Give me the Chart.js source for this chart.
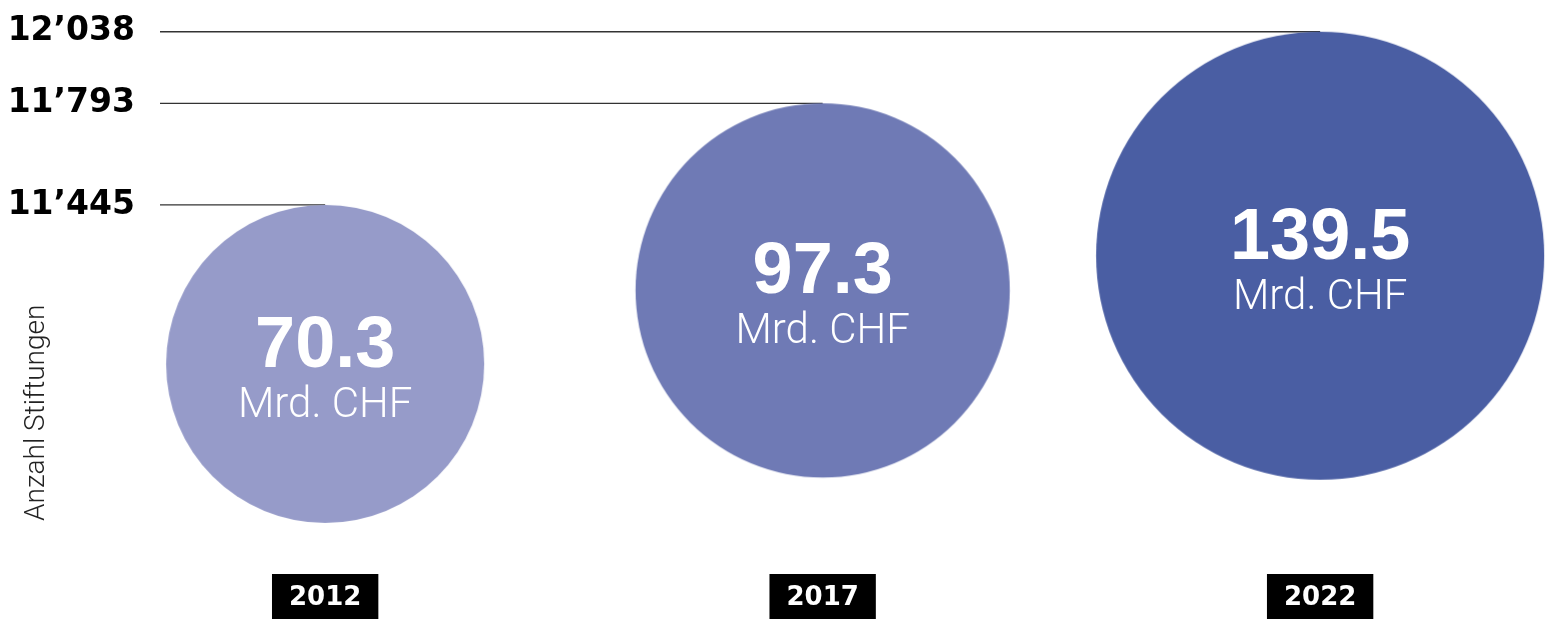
<!DOCTYPE html>
<html>
<head>
<meta charset="utf-8">
<script src="https://cdn.jsdelivr.net/npm/chart.js@4"></script>
<style>
  html, body { margin: 0; padding: 0; background: #fff; }
  #wrap { width: 1545px; height: 619px; position: relative; }
</style>
</head>
<body>
<div id="wrap"><canvas id="grafico"></canvas></div>
<script>
// daten
const jahre = [2012, 2017, 2022]
const stiftungen = [11445, 11793, 12038]
const vermoegen = [70.3, 97.3, 139.5]   // Mrd. CHF
const einheit = "Mrd. CHF"
const achsenTitel = "Anzahl Stiftungen"

// stil
const farben = ["#969bc9", "#6f7ab5", "#4a5ea3"]
const schrift = "'Liberation Sans', Arial, sans-serif"
const schriftBreit = "'DejaVu Sans', sans-serif"
const schriftLeicht = "Roboto, 'Liberation Sans', sans-serif"
const radiusFaktor = 18.97   // px pro wurzel(Mrd. CHF), flaeche ~ vermoegen
const xMin = 2010.34, xMax = 2024.26
const yMin = 10362.8, yMax = 12146.7

const radien = vermoegen.map(v => radiusFaktor * Math.sqrt(v))

function tausender(v) {
    return String(v).replace(/\B(?=(\d{3})+(?!\d))/g, "’")
}

// kreis als punktbild: die oberkante liegt genau auf dem datenpunkt
function kreisBild(r, farbe) {
    const R = Math.ceil(r) + 1
    const c = document.createElement("canvas")
    c.width = 2 * R
    c.height = 4 * R
    const ctx = c.getContext("2d")
    ctx.fillStyle = farbe
    ctx.beginPath()
    ctx.arc(R, 2 * R + r, r, 0, Math.PI * 2)
    ctx.fill()
    return c
}

const kreisText = {
    id: "kreisText",
    afterDatasetsDraw(chart) {
        const meta = chart.getDatasetMeta(jahre.length)
        const ctx = chart.ctx
        ctx.save()
        ctx.fillStyle = "#fff"
        ctx.textAlign = "center"
        ctx.textBaseline = "alphabetic"
        meta.data.forEach((el, i) => {
            const cy = el.y + radien[i]
            ctx.font = "bold 72px " + schrift
            ctx.fillText(vermoegen[i].toFixed(1), el.x, cy + 3)
            ctx.font = "300 42px " + schriftLeicht
            ctx.fillText(einheit, el.x, cy + 53)
        })
        ctx.restore()
    }
}

const linien = jahre.map((j, i) => ({
    type: "line",
    data: [{x: xMin, y: stiftungen[i]}, {x: j, y: stiftungen[i]}],
    borderColor: "#333",
    borderWidth: 1.3,
    pointRadius: 0,
    order: 2,
}))

const blasen = {
    type: "bubble",
    data: jahre.map((j, i) => ({x: j, y: stiftungen[i], r: radien[i]})),
    pointStyle: farben.map((f, i) => kreisBild(radien[i], f)),
    backgroundColor: farben,
    borderWidth: 0,
    clip: false,
    order: 1,
}

new Chart(document.getElementById("grafico"), {
    type: "bubble",
    data: { datasets: [...linien, blasen] },
    options: {
        responsive: true,
        maintainAspectRatio: false,
        animation: false,
        events: [],
        layout: { padding: 0, autoPadding: false },
        plugins: {
            legend: { display: false },
            tooltip: { enabled: false },
        },
        scales: {
            x: {
                type: "linear",
                min: xMin,
                max: xMax,
                grid: { display: false, drawTicks: false },
                border: { display: false },
                afterBuildTicks: s => { s.ticks = jahre.map(v => ({value: v})) },
                afterFit: s => { s.height = 98; s.paddingLeft = 0; s.paddingRight = 0 },
                ticks: {
                    callback: v => String(v),
                    color: "#fff",
                    font: { family: schriftBreit, size: 26, weight: "bold" },
                    padding: 62,
                    showLabelBackdrop: true,
                    backdropColor: "#000",
                    backdropPadding: { top: 9, bottom: 20, left: 17, right: 17 },
                    maxRotation: 0,
                    autoSkip: false,
                },
            },
            y: {
                type: "linear",
                min: yMin,
                max: yMax,
                grid: { display: false, drawTicks: false },
                border: { display: false },
                afterBuildTicks: s => { s.ticks = stiftungen.map(v => ({value: v})) },
                afterFit: s => { s.width = 160; s.paddingTop = 0; s.paddingBottom = 0 },
                ticks: {
                    callback: v => tausender(v),
                    color: "#000",
                    font: { family: schriftBreit, size: 33, weight: "bold" },
                    padding: 25,
                },
                title: {
                    display: true,
                    text: achsenTitel,
                    align: "start",
                    color: "#222",
                    font: { family: schriftLeicht, size: 28, weight: 300 },
                    padding: { top: 20, bottom: 0 },
                },
            },
        },
    },
    plugins: [kreisText],
})
</script>
</body>
</html>
